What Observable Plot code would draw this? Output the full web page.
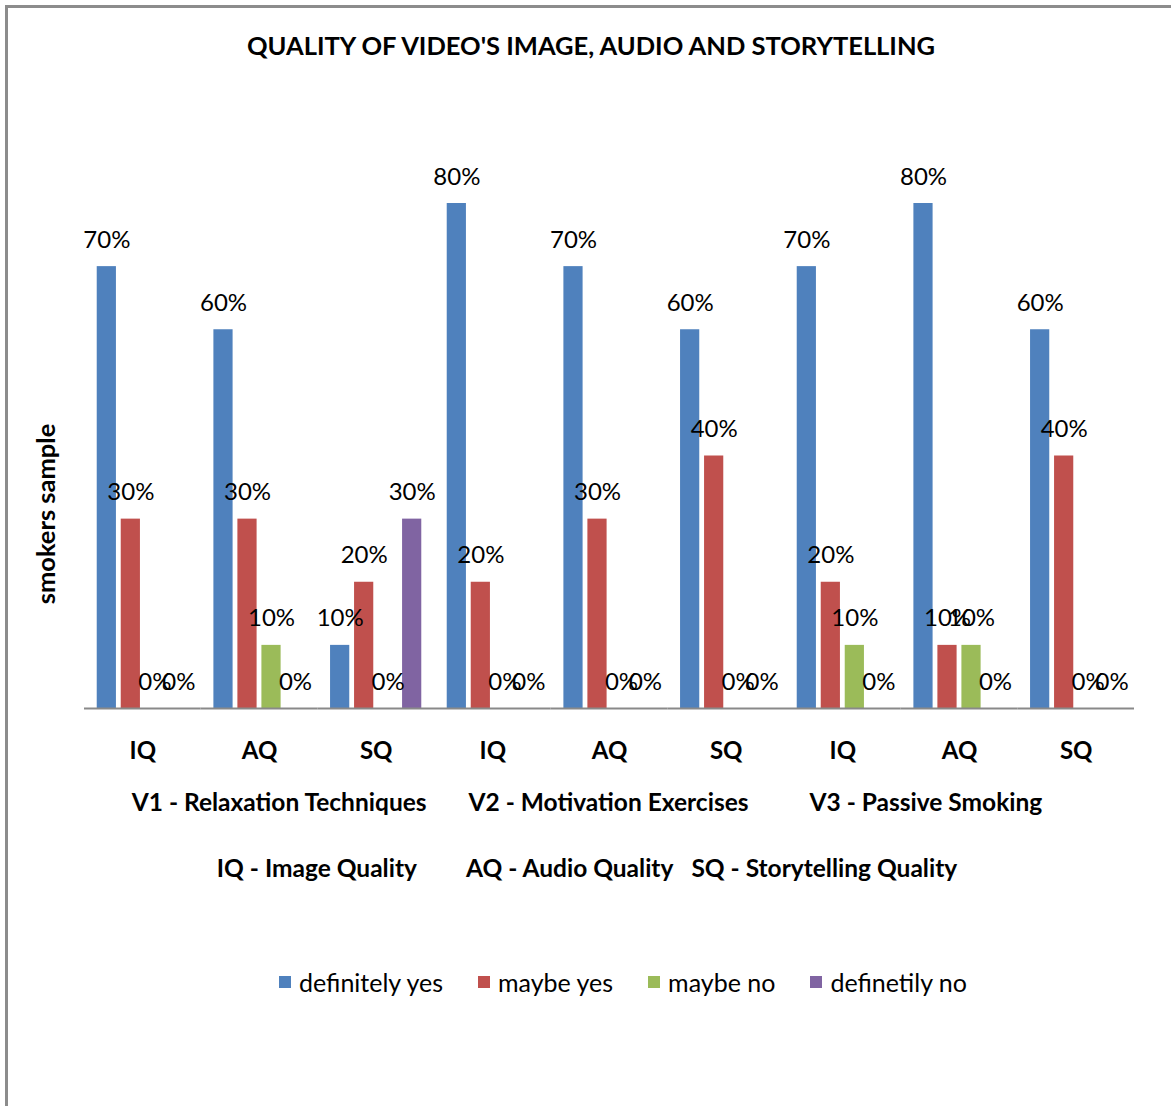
<!DOCTYPE html>
<html>
<head>
<meta charset="utf-8">
<script src="https://cdn.jsdelivr.net/npm/d3@7"></script>
<script src="https://cdn.jsdelivr.net/npm/@observablehq/plot@0.6"></script>
<style>
  html, body { margin: 0; padding: 0; background: #fff; overflow: hidden; }
  body { width: 1171px; height: 1106px; position: relative; font-family: Lato, "Open Sans", sans-serif; color: #000; }
  #frame { position: absolute; left: 5px; top: 5px; width: 1300px; height: 1300px;
           border-left: 3px solid #8c8c8c; border-top: 3px solid #8c8c8c; }
  #title { position: absolute; left: 0; width: 1182px; top: 33px; text-align: center;
           font-weight: 700; font-size: 25.5px; line-height: 24px; white-space: nowrap; }
  #chart { position: absolute; left: 0; top: 150px; }
  #ytitle { position: absolute; left: 45px; top: 514px; transform: translate(-50%, -50%) rotate(-90deg);
            font-weight: 700; font-size: 25.5px; line-height: 24px; white-space: nowrap; }
  .note { position: absolute; left: 0; width: 1174px; display: flex; justify-content: center;
          font-weight: 700; font-size: 24.5px; line-height: 24px; white-space: nowrap; }
  #legend { position: absolute; left: 0; width: 1246px; top: 970px; height: 24px; display: flex;
            justify-content: center; align-items: center; font-size: 25px; line-height: 24px; white-space: nowrap; }
  #legend .item { display: flex; align-items: center; }
  #legend .item + .item { margin-left: 35px; }
  #legend .sw { width: 12px; height: 12px; margin-right: 8px; }
</style>
</head>
<body>
<div id="frame"></div>
<div id="title">QUALITY OF VIDEO'S IMAGE, AUDIO AND STORYTELLING</div>
<div id="ytitle">smokers sample</div>
<div id="chart"></div>
<div class="note" id="videosNote" style="top:790px"></div>
<div class="note" id="aspectsNote" style="top:856px"></div>
<div id="legend"></div>
<script>
// Videos and the three rated aspects of each
const videos = ["V1", "V2", "V3"];
const videoNames = ["V1 - Relaxation Techniques", "V2 - Motivation Exercises", "V3 - Passive Smoking"];
const aspects = ["IQ", "AQ", "SQ"];
const aspectNames = ["IQ - Image Quality", "AQ - Audio Quality", "SQ - Storytelling Quality"];

// Answer categories and their colours
const series = ["definitely yes", "maybe yes", "maybe no", "definetily no"];
const colors = ["#4F81BD", "#C0504D", "#9BBB59", "#8064A2"];

// Share of smokers (%) per video/aspect, in order V1 IQ, V1 AQ, V1 SQ, V2 IQ, ... V3 SQ
const definitelyYes = [70, 60, 10, 80, 70, 60, 70, 80, 60];
const maybeYes      = [30, 30, 20, 20, 30, 40, 20, 10, 40];
const maybeNo       = [0, 10, 0, 0, 0, 0, 10, 10, 0];
const definetilyNo  = [0, 0, 30, 0, 0, 0, 0, 0, 0];

const valuesBySeries = [definitelyYes, maybeYes, maybeNo, definetilyNo];

const groups = [];
videos.forEach(v => aspects.forEach(a => groups.push({key: `${v} ${a}`, aspect: a})));

const rows = [];
groups.forEach((g, i) => {
  series.forEach((s, j) => {
    rows.push({group: g.key, aspect: g.aspect, series: s, value: valuesBySeries[j][i]});
  });
});

const chart = Plot.plot({
  width: 1171,
  height: 640,
  marginLeft: 84,
  marginRight: 37,
  marginTop: 53,
  marginBottom: 82,
  style: {fontFamily: "Lato, 'Open Sans', sans-serif", background: "transparent", overflow: "visible", color: "#000"},
  fx: {domain: groups.map(g => g.key), padding: 0, round: false, axis: null, label: null},
  x: {domain: series, axis: null, paddingInner: 0.2, paddingOuter: 0.53, round: false},
  y: {domain: [0, 80], axis: null},
  color: {domain: series, range: colors},
  marks: [
    Plot.barY(rows, {fx: "group", x: "series", y: "value", fill: "series"}),
    Plot.ruleY([0], {stroke: "#898989", strokeWidth: 2}),
    Plot.text(rows, {
      fx: "group", x: "series", y: "value",
      text: d => `${d.value}%`,
      lineAnchor: "bottom", dy: -19, fontSize: 24, fill: "#000"
    }),
    Plot.text(groups, {
      fx: "key", text: "aspect", frameAnchor: "bottom",
      lineAnchor: "bottom", dy: 50, fontSize: 24, fontWeight: "bold", fill: "#000"
    })
  ]
});
document.getElementById("chart").appendChild(chart);

// Explanatory lines under the category axis
function fillNote(id, parts, gaps) {
  const el = d3.select("#" + id);
  parts.forEach((p, i) => {
    el.append("span").style("margin-left", i ? gaps[i - 1] + "px" : "0px").text(p);
  });
}
fillNote("videosNote", videoNames, [42, 61]);
fillNote("aspectsNote", aspectNames, [49, 18]);

// Legend
const legend = d3.select("#legend");
series.forEach((s, i) => {
  const item = legend.append("div").attr("class", "item");
  item.append("div").attr("class", "sw").style("background", colors[i]);
  item.append("span").text(s);
});
</script>
</body>
</html>
